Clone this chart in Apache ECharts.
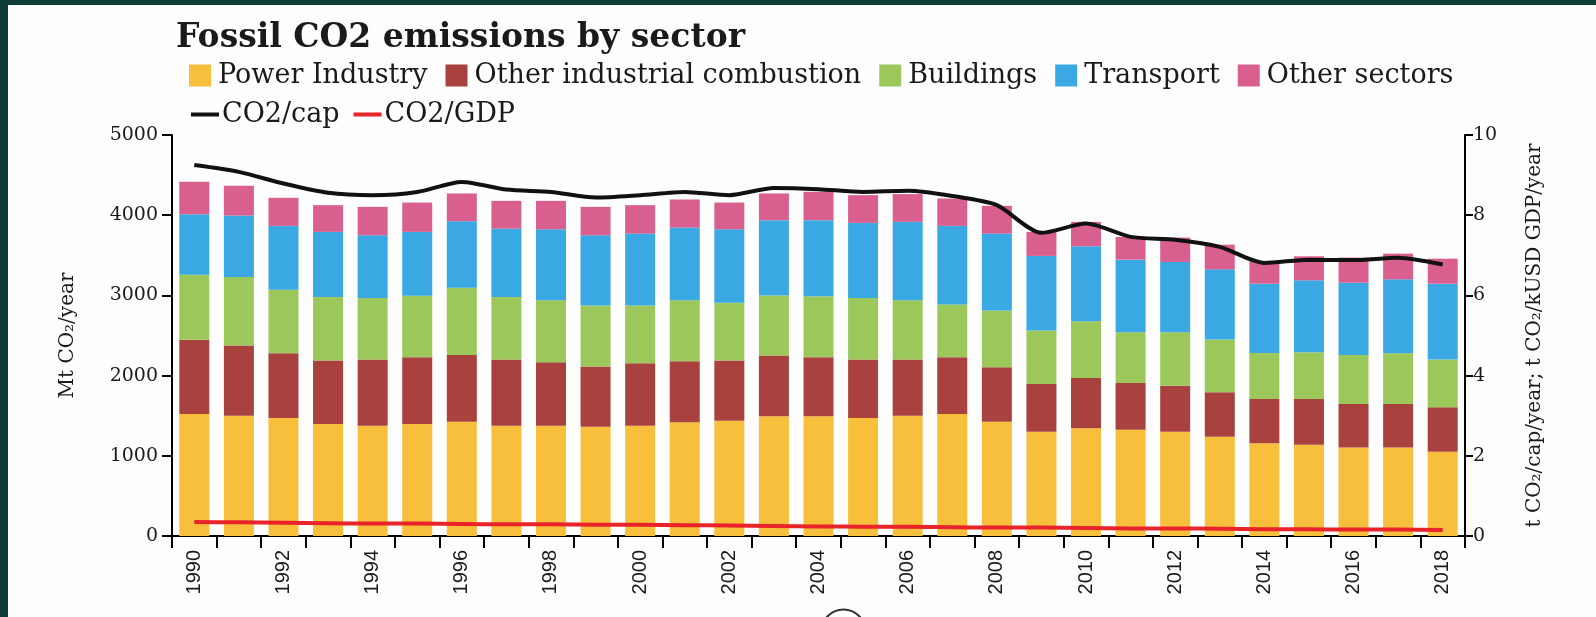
<!DOCTYPE html>
<html>
<head>
<meta charset="utf-8">
<script src="https://cdn.jsdelivr.net/npm/echarts@6/dist/echarts.min.js"></script>
<style>
  html, body { margin: 0; padding: 0; background: #0e3d37; }
  #frame { position: absolute; left: 8px; top: 5px; width: 1588px; height: 612px; background: #fefefe; }
  #chart { position: absolute; left: -8px; top: -5px; width: 1596px; height: 617px; }
</style>
</head>
<body>
<div id="frame"><div id="chart"></div></div>
<script>
// Years on the category axis
const years = ['1990','1991','1992','1993','1994','1995','1996','1997','1998','1999',
  '2000','2001','2002','2003','2004','2005','2006','2007','2008','2009',
  '2010','2011','2012','2013','2014','2015','2016','2017','2018'];

// Sector emissions, Mt CO2 per year
const powerIndustry = [1521,1500,1471,1396,1375,1396,1425,1375,1375,1363,1375,1417,1438,1492,1492,1471,1500,1521,1425,1300,1342,1325,1300,1238,1158,1138,1104,1104,1050];
const otherIndustrial = [925,875,808,792,825,833,833,825,792,750,779,762,750,758,737,729,700,708,679,596,629,583,575,554,550,570,542,542,554];
const buildings = [812,854,792,791,767,767,838,779,771,762,721,759,720,750,759,767,738,659,709,667,708,634,667,658,575,584,612,633,596];
const transport = [755,767,796,813,783,796,829,854,887,875,896,908,917,938,950,937,979,979,958,929,934,904,875,875,863,896,900,921,946];
const otherSectors = [404,371,350,333,354,366,346,346,354,354,354,350,333,333,354,346,346,341,346,300,304,283,304,308,279,300,313,321,312];

// Intensity indicators on the right axis
const co2PerCap = [9.25,9.08,8.79,8.56,8.50,8.58,8.83,8.64,8.58,8.44,8.50,8.58,8.50,8.68,8.65,8.58,8.61,8.48,8.25,7.56,7.79,7.46,7.39,7.21,6.81,6.89,6.88,6.94,6.77];
const co2PerGdp = [0.35,0.34,0.33,0.32,0.31,0.31,0.30,0.29,0.29,0.28,0.28,0.27,0.26,0.25,0.24,0.23,0.23,0.22,0.21,0.21,0.20,0.19,0.19,0.18,0.17,0.17,0.16,0.16,0.15];

const SERIF = '"DejaVu Serif", "Liberation Serif", serif';
const INK = '#1a1a1a';

const chart = echarts.init(document.getElementById('chart'), null, { renderer: 'canvas' });

function barSeries(name, data, color) {
  return {
    name, type: 'bar', stack: 'sectors', data, barWidth: 30,
    itemStyle: { color }, emphasis: { disabled: true }
  };
}

chart.setOption({
  animation: false,
  backgroundColor: 'transparent',
  title: {
    text: 'Fossil CO2 emissions by sector',
    left: 171, top: 17,
    textStyle: { fontFamily: SERIF, fontWeight: 'bold', fontSize: 33, color: INK }
  },
  legend: [
    {
      data: ['Power Industry', 'Other industrial combustion', 'Buildings', 'Transport', 'Other sectors'],
      left: 184, top: 57, icon: 'rect', itemWidth: 22, itemHeight: 22, itemGap: 18,
      textStyle: { fontFamily: SERIF, fontSize: 27, color: INK, padding: [0, 0, 0, 2] }
    },
    {
      data: ['CO2/cap', 'CO2/GDP'],
      left: 186, top: 96, icon: 'rect', itemWidth: 28, itemHeight: 4, itemGap: 14,
      textStyle: { fontFamily: SERIF, fontSize: 27, color: INK, padding: [0, 0, 0, -2] }
    }
  ],
  grid: { left: 172, right: 131, top: 135, bottom: 81, outerBoundsMode: 'none' },
  xAxis: {
    type: 'category', data: years, boundaryGap: true,
    axisLine: { lineStyle: { color: '#000', width: 2 } },
    axisTick: { show: true, interval: 0, length: 12, lineStyle: { color: '#000', width: 2 } },
    axisLabel: {
      interval: 1, rotate: 90, margin: 14,
      fontFamily: '"Liberation Sans", Arial, sans-serif', fontSize: 20, color: INK
    }
  },
  yAxis: [
    {
      type: 'value', min: 0, max: 5000, interval: 1000,
      name: 'Mt CO\u2082/year', nameLocation: 'middle', nameGap: 94, nameRotate: 90,
      nameTextStyle: { fontFamily: SERIF, fontSize: 20, color: INK },
      axisLine: { show: true, lineStyle: { color: '#000', width: 2 } },
      axisTick: { show: true, length: 10, lineStyle: { color: '#000', width: 2 } },
      axisLabel: { margin: 14, fontFamily: SERIF, fontSize: 19, color: INK, formatter: v => String(v) },
      splitLine: { show: false }
    },
    {
      type: 'value', min: 0, max: 10, interval: 2, position: 'right',
      name: 't CO\u2082/cap/year; t CO\u2082/kUSD GDP/year', nameLocation: 'middle', nameGap: 60, nameRotate: 90,
      nameTextStyle: { fontFamily: SERIF, fontSize: 20, color: INK },
      axisLine: { show: true, lineStyle: { color: '#000', width: 2 } },
      axisTick: { show: true, length: 8, lineStyle: { color: '#000', width: 2 } },
      axisLabel: { margin: 8, fontFamily: SERIF, fontSize: 19, color: INK, formatter: v => String(v) },
      splitLine: { show: false }
    }
  ],
  series: [
    barSeries('Power Industry', powerIndustry, '#f8bf3c'),
    barSeries('Other industrial combustion', otherIndustrial, '#a9423f'),
    barSeries('Buildings', buildings, '#9cc85b'),
    barSeries('Transport', transport, '#3aa8e2'),
    barSeries('Other sectors', otherSectors, '#d9608e'),
    {
      name: 'CO2/cap', type: 'line', yAxisIndex: 1, data: co2PerCap,
      smooth: 0.25, symbol: 'none', lineStyle: { color: '#111', width: 4 }, itemStyle: { color: '#111' },
      z: 5
    },
    {
      name: 'CO2/GDP', type: 'line', yAxisIndex: 1, data: co2PerGdp,
      smooth: 0.25, symbol: 'none', lineStyle: { color: '#e8232a', width: 4 }, itemStyle: { color: '#e8232a' },
      z: 5
    }
  ],
  graphic: [
    {
      type: 'circle', left: 819, top: 607,
      shape: { r: 22 },
      style: { fill: 'none', stroke: '#333', lineWidth: 2 },
      silent: true
    }
  ]
});
</script>
</body>
</html>
